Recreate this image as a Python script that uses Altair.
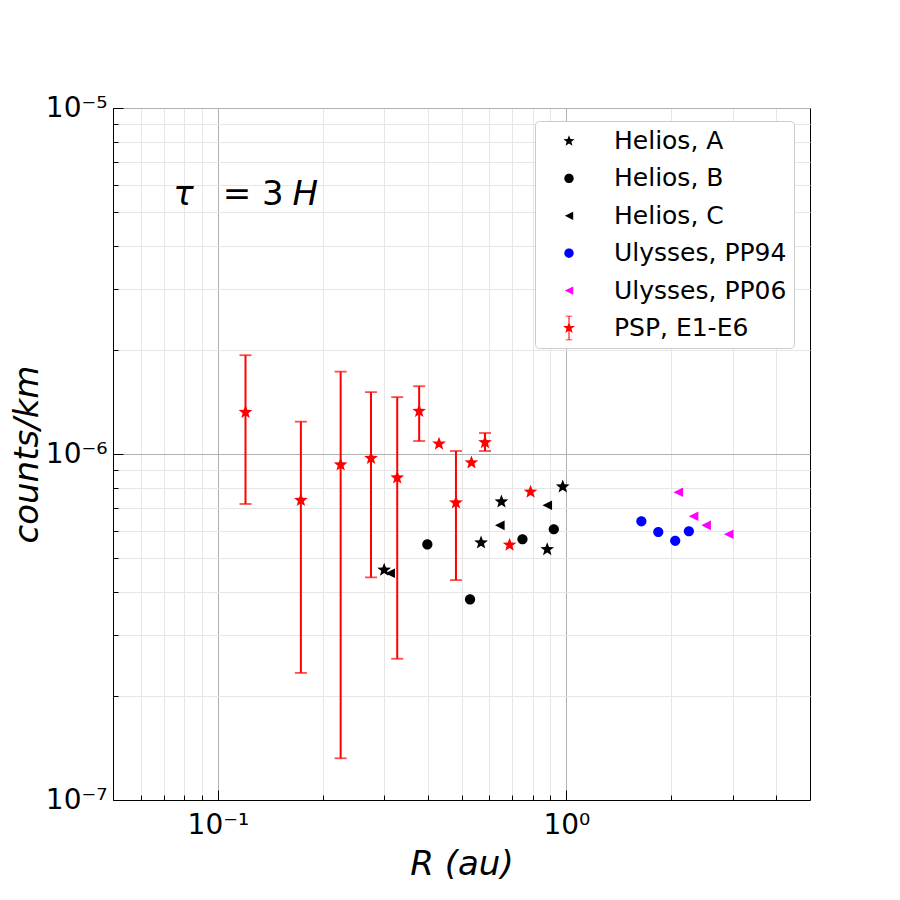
import math
import altair as alt
import pandas as pd

# ---------------- data ----------------
series_names = ["Helios, A", "Helios, B", "Helios, C", "Ulysses, PP94", "Ulysses, PP06", "PSP, E1-E6"]
series_colors = ["black", "black", "black", "blue", "magenta", "red"]

helios_a_r = [0.300, 0.569, 0.651, 0.881, 0.976]
helios_a_n = [4.62e-7, 5.54e-7, 7.28e-7, 5.30e-7, 8.04e-7]

helios_b_r = [0.399, 0.529, 0.748, 0.920]
helios_b_n = [5.48e-7, 3.80e-7, 5.67e-7, 6.06e-7]

helios_c_r = [0.312, 0.644, 0.881]
helios_c_n = [4.52e-7, 6.22e-7, 7.11e-7]

ulysses94_r = [1.641, 1.835, 2.052, 2.246]
ulysses94_n = [6.39e-7, 5.95e-7, 5.61e-7, 5.98e-7]

ulysses06_r = [2.094, 2.317, 2.517, 2.923]
ulysses06_n = [7.75e-7, 6.61e-7, 6.22e-7, 5.86e-7]

psp_r = [0.120, 0.173, 0.225, 0.275, 0.327, 0.378, 0.431, 0.482, 0.534, 0.584, 0.687, 0.789]
psp_n = [1.32e-6, 7.35e-7, 9.31e-7, 9.72e-7, 8.54e-7, 1.33e-6, 1.07e-6, 7.23e-7, 9.44e-7, 1.08e-6, 5.46e-7, 7.77e-7]
psp_lo = [7.17e-7, 2.33e-7, 1.32e-7, 4.40e-7, 2.56e-7, 1.09e-6, None, 4.32e-7, None, 1.02e-6, None, None]
psp_hi = [1.93e-6, 1.24e-6, 1.73e-6, 1.51e-6, 1.46e-6, 1.57e-6, None, 1.02e-6, None, 1.15e-6, None, None]

x_major = [0.1, 1.0]
x_minor = [0.06, 0.07, 0.08, 0.09, 0.2, 0.3, 0.4, 0.5, 0.6, 0.7, 0.8, 0.9, 2.0, 3.0, 4.0]
y_major = [1e-7, 1e-6, 1e-5]
y_minor = [2e-7, 3e-7, 4e-7, 5e-7, 6e-7, 7e-7, 8e-7, 9e-7,
           2e-6, 3e-6, 4e-6, 5e-6, 6e-6, 7e-6, 8e-6, 9e-6]

note_parts = ["τ", "= 3", "H"]
note_italic = [True, False, True]
note_r = [0.0744, 0.1033, 0.1637]
note_n = [5.25e-6, 5.25e-6, 5.25e-6]

# ---------------- tables ----------------
rows = []
for name, rs, ns in [
    ("Helios, A", helios_a_r, helios_a_n),
    ("Helios, B", helios_b_r, helios_b_n),
    ("Helios, C", helios_c_r, helios_c_n),
    ("Ulysses, PP94", ulysses94_r, ulysses94_n),
    ("Ulysses, PP06", ulysses06_r, ulysses06_n),
    ("PSP, E1-E6", psp_r, psp_n),
]:
    for r, n in zip(rs, ns):
        rows.append({"series": name, "r": r, "n": n})
points_df = pd.DataFrame(rows)

err_df = pd.DataFrame(
    [{"r": r, "lo": lo, "hi": hi} for r, lo, hi in zip(psp_r, psp_lo, psp_hi) if lo is not None]
)

note_df = pd.DataFrame({"r": note_r, "n": note_n, "label": note_parts, "italic": note_italic})

# ---------------- marker shapes ----------------
def fmt(v):
    return f"{v:.4f}"

def star_path(s):
    pts = []
    for k in range(10):
        ang = math.radians(-90 + 36 * k)
        rad = s if k % 2 == 0 else s * 0.42
        pts.append((rad * math.cos(ang), rad * math.sin(ang)))
    return "M" + " L".join(f"{fmt(x)},{fmt(y)}" for x, y in pts) + " Z"

def circle_path(r):
    return f"M{fmt(r)},0 A{fmt(r)},{fmt(r)} 0 1,1 {fmt(-r)},0 A{fmt(r)},{fmt(r)} 0 1,1 {fmt(r)},0 Z"

def tri_left_path(s):
    return f"M{fmt(-s)},0 L{fmt(s)},{fmt(-s)} L{fmt(s)},{fmt(s)} Z"

def rect(x0, y0, x1, y1):
    return f"M{fmt(x0)},{fmt(y0)} L{fmt(x1)},{fmt(y0)} L{fmt(x1)},{fmt(y1)} L{fmt(x0)},{fmt(y1)} Z "

def errbar_path(star_s, half_h, bar_w, cap_w, cap_t):
    p = rect(-bar_w, -half_h, bar_w, half_h)
    p += rect(-cap_w, -half_h, cap_w, -half_h + cap_t)
    p += rect(-cap_w, half_h - cap_t, cap_w, half_h)
    p += star_path(star_s)
    return p

main_shapes = [star_path(1.2), circle_path(0.85), tri_left_path(0.8),
               circle_path(0.85), tri_left_path(0.8), star_path(1.2)]
legend_shapes = [star_path(0.45), circle_path(0.36), tri_left_path(0.32),
                 circle_path(0.36), tri_left_path(0.32),
                 errbar_path(0.48, 0.95, 0.04, 0.25, 0.07)]

# ---------------- axes ----------------
MAJOR = "abs(log(datum.value)/LN10 - round(log(datum.value)/LN10)) < 1e-6"
FONT = "DejaVu Sans"

x_axis = alt.Axis(
    values=sorted(x_major + x_minor),
    labelExpr="datum.value == 0.1 ? '10⁻¹' : (datum.value == 1 ? '10⁰' : '')",
    grid=True,
    gridColor={"condition": {"test": MAJOR, "value": "#b0b0b0"}, "value": "#e6e6e6"},
    gridWidth=1,
    tickSize={"expr": f"({MAJOR}) ? -10 : -5"},
    tickColor="black",
    tickWidth=1,
    labelPadding=21,
    labelFont=FONT,
    labelFontSize=28,
    labelColor="black",
    labelFlush=False,
    labelOverlap=False,
    domainColor="black",
    title="R (au)",
    titleFont=FONT,
    titleFontSize=34,
    titleFontStyle="italic",
    titleFontWeight="normal",
    titleColor="black",
    titleBaseline="alphabetic",
    titleAlign="center",
    titleX=348.5,
    titleY=74,
)

y_axis = alt.Axis(
    values=sorted(y_major + y_minor),
    labelExpr="datum.value == 1e-5 ? '10⁻⁵' : (datum.value == 1e-6 ? '10⁻⁶' : (datum.value == 1e-7 ? '10⁻⁷' : ''))",
    grid=True,
    gridColor={"condition": {"test": MAJOR, "value": "#b0b0b0"}, "value": "#e6e6e6"},
    gridWidth=1,
    tickSize={"expr": f"({MAJOR}) ? -10 : -5"},
    tickColor="black",
    tickWidth=1,
    labelPadding=16,
    labelFont=FONT,
    labelFontSize=28,
    labelColor="black",
    labelFlush=False,
    labelOverlap=False,
    domainColor="black",
    title="counts/km",
    titleFont=FONT,
    titleFontSize=34,
    titleFontStyle="italic",
    titleFontWeight="normal",
    titleColor="black",
    titleBaseline="alphabetic",
    titleAlign="center",
    titleAngle=270,
    titleX=-76,
    titleY=346,
)

x_scale = alt.Scale(type="log", domain=[0.05, 5])
y_scale = alt.Scale(type="log", domain=[1e-7, 1e-5])

X = alt.X("r:Q", scale=x_scale, axis=x_axis)

# ---------------- layers ----------------
err_rule = alt.Chart(err_df).mark_rule(color="red", strokeWidth=2).encode(
    x=X,
    y=alt.Y("lo:Q", scale=y_scale, axis=y_axis),
    y2="hi:Q",
)
cap_lo = alt.Chart(err_df).mark_tick(color="red", orient="horizontal", size=12, thickness=1.8).encode(
    x=X, y=alt.Y("lo:Q", scale=y_scale, axis=y_axis)
)
cap_hi = alt.Chart(err_df).mark_tick(color="red", orient="horizontal", size=12, thickness=1.8).encode(
    x=X, y=alt.Y("hi:Q", scale=y_scale, axis=y_axis)
)

pts = alt.Chart(points_df).mark_point(filled=True, size=144, opacity=1, strokeWidth=0).encode(
    x=X,
    y=alt.Y("n:Q", scale=y_scale, axis=y_axis),
    color=alt.Color("series:N", scale=alt.Scale(domain=series_names, range=series_colors), legend=None),
    shape=alt.Shape("series:N", scale=alt.Scale(domain=series_names, range=main_shapes), legend=None),
)

legend_props = dict(
    title=None,
    orient="none",
    legendX=422,
    legendY=13,
    padding=7,
    symbolOffset=14,
    labelOffset=32,
    rowPadding=11.4,
    labelFont=FONT,
    labelFontSize=25,
    labelColor="black",
    labelLimit=400,
    symbolSize=676,
    symbolStrokeWidth=0,
    symbolOpacity=1,
    fillColor="white",
    strokeColor="#cccccc",
    cornerRadius=4,
)

legend_layer = alt.Chart(points_df).transform_filter("false").mark_point(
    filled=True, size=676, strokeWidth=0, opacity=1
).encode(
    x=X,
    y=alt.Y("n:Q", scale=y_scale, axis=y_axis),
    color=alt.Color("series:N", scale=alt.Scale(domain=series_names, range=series_colors),
                    legend=alt.Legend(**legend_props)),
    shape=alt.Shape("series:N", scale=alt.Scale(domain=series_names, range=legend_shapes),
                    legend=alt.Legend(**legend_props)),
)

note_it = alt.Chart(note_df).transform_filter("datum.italic").mark_text(
    font=FONT, fontSize=34, fontStyle="italic", align="left", baseline="alphabetic", color="black"
).encode(x=X, y=alt.Y("n:Q", scale=y_scale, axis=y_axis), text="label:N")
note_up = alt.Chart(note_df).transform_filter("!datum.italic").mark_text(
    font=FONT, fontSize=34, align="left", baseline="alphabetic", color="black"
).encode(x=X, y=alt.Y("n:Q", scale=y_scale, axis=y_axis), text="label:N")

chart = (
    alt.layer(err_rule, cap_lo, cap_hi, pts, legend_layer, note_it, note_up)
    .resolve_scale(color="independent", shape="independent")
    .properties(
        width=697,
        height=692,
        autosize="none",
        padding={"left": 105, "top": 100, "right": 82, "bottom": 92},
        background="white",
    )
    .configure_view(stroke="black", strokeWidth=1)
)

chart.save("out.html", embed_options={"renderer": "svg", "actions": False})
